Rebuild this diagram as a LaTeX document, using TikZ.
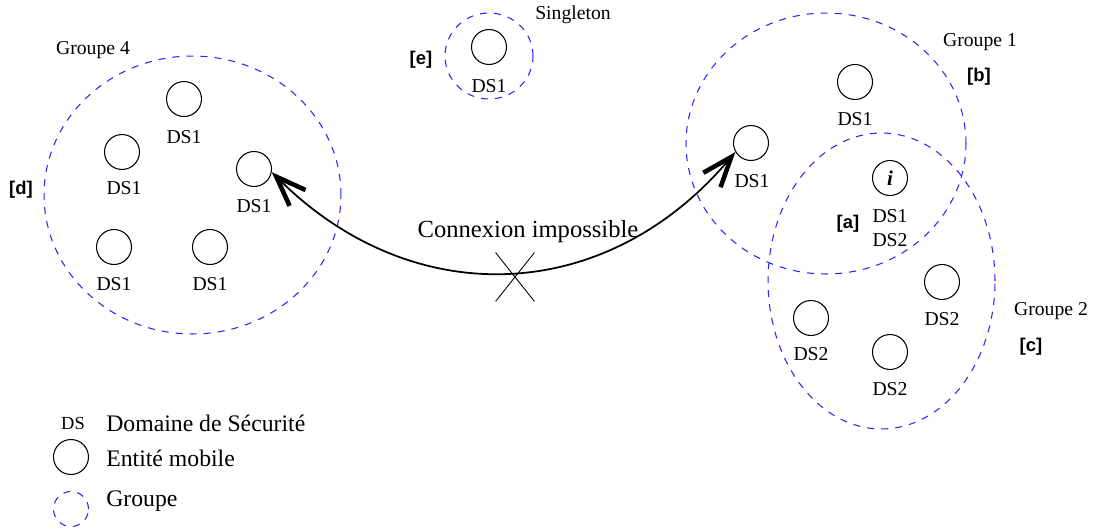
\documentclass[tikz,border=0pt]{standalone}
\usepackage{fontspec}
\setmainfont{Liberation Serif}
\newfontfamily\tagfont{Liberation Sans}
\usetikzlibrary{arrows.meta,shapes.geometric,shapes.misc}

\begin{document}
\begin{tikzpicture}[
        x=0.02cm, y=-0.02cm,
        entity/.style={circle, draw=black, line width=0.6pt, minimum size=0.7cm, inner sep=0pt},
        groupe/.style={ellipse, draw=blue!85!white, line width=0.6pt, dash pattern=on 4pt off 4pt, inner sep=0pt},
        dstext/.style={font=\fontsize{11.2}{13.5}\selectfont, inner sep=0pt, align=center},
        grptext/.style={font=\fontsize{11.2}{13}\selectfont, inner sep=0pt},
        tagtext/.style={font=\tagfont\bfseries\fontsize{10.5}{12}\selectfont, inner sep=0pt},
        legtext/.style={font=\fontsize{13.5}{16}\selectfont, inner sep=0pt, anchor=west},
        conn/.style={line width=1pt, {Straight Barb[length=0.6cm, width=0.45cm, line width=2.6pt]}-{Straight Barb[length=0.6cm, width=0.45cm, line width=2.6pt]}},
        ]

        \useasboundingbox (0,0) rectangle (1098,528);

        % Groupe 4
        \node[groupe, minimum width=5.94cm, minimum height=5.56cm] (g4) at (192.5,195) {};
        \node[grptext] (g4name) at (93,50) {Groupe 4};
        \node[tagtext] (tagd) at (21,190) {[d]};
        \node[entity] (g4a) at (184,99) {};
        \node[dstext] (g4a-t) at (184,137) {DS1};
        \node[entity] (g4b) at (122,152) {};
        \node[dstext] (g4b-t) at (124,188) {DS1};
        \node[entity] (g4c) at (254,169) {};
        \node[dstext] (g4c-t) at (254,206) {DS1};
        \node[entity] (g4d) at (114,247) {};
        \node[dstext] (g4d-t) at (114,284) {DS1};
        \node[entity] (g4e) at (210,247) {};
        \node[dstext] (g4e-t) at (210,284) {DS1};

        % Singleton
        \node[groupe, minimum width=1.76cm, minimum height=1.72cm] (sg) at (489,56) {};
        \node[grptext] (sgname) at (573,15) {Singleton};
        \node[tagtext] (tage) at (421,60) {[e]};
        \node[entity] (sga) at (489,47) {};
        \node[dstext] (sga-t) at (489,86) {DS1};

        % Groupe 1
        \node[groupe, minimum width=5.6cm, minimum height=5.22cm] (g1) at (826,143.5) {};
        \node[grptext] (g1name) at (980,42) {Groupe 1};
        \node[tagtext] (tagb) at (979,77) {[b]};
        \node[entity] (g1a) at (751,143) {};
        \node[dstext] (g1a-t) at (752,181) {DS1};
        \node[entity] (g1b) at (855,82) {};
        \node[dstext] (g1b-t) at (855,119) {DS1};

        % Groupe 2
        \node[groupe, minimum width=4.54cm, minimum height=5.92cm] (g2) at (881.5,281) {};
        \node[grptext] (g2name) at (1051,311) {Groupe 2};
        \node[tagtext] (tagc) at (1031,347) {[c]};
        \node[entity] (g2a) at (942,282) {};
        \node[dstext] (g2a-t) at (942,319) {DS2};
        \node[entity] (g2b) at (811,318) {};
        \node[dstext] (g2b-t) at (811,354) {DS2};
        \node[entity] (g2c) at (890,352) {};
        \node[dstext] (g2c-t) at (890,389) {DS2};

        % Entite i, dans les deux groupes
        \node[entity, font=\fontsize{12}{14}\selectfont\bfseries\itshape] (ei) at (890,178) {i};
        \node[dstext] (ei-t) at (890,228) {DS1\\DS2};
        \node[tagtext] (taga) at (848,224) {[a]};

        % Connexion impossible
        \draw[conn] (g4c.-10) to[out=-45, in=-130, looseness=1.1] (g1a.-150);
        \node[cross out, draw, line width=0.5pt, minimum width=0.76cm, minimum height=0.96cm] (nx) at (515,277) {};
        \node[font=\fontsize{14}{16}\selectfont, inner sep=0pt] (cxtext) at (528,232) {Connexion impossible};

        % Legende
        \node[font=\fontsize{10.5}{12}\selectfont, inner sep=0pt] (legds) at (73,423) {DS};
        \node[legtext] (legds-t) at (106,423) {Domaine de Sécurité};
        \node[entity] (legent) at (71,457) {};
        \node[legtext] (legent-t) at (106,458) {Entité mobile};
        \node[groupe, minimum size=0.7cm] (leggrp) at (71,509) {};
        \node[legtext] (leggrp-t) at (106,501) {Groupe};

\end{tikzpicture}
\end{document}
